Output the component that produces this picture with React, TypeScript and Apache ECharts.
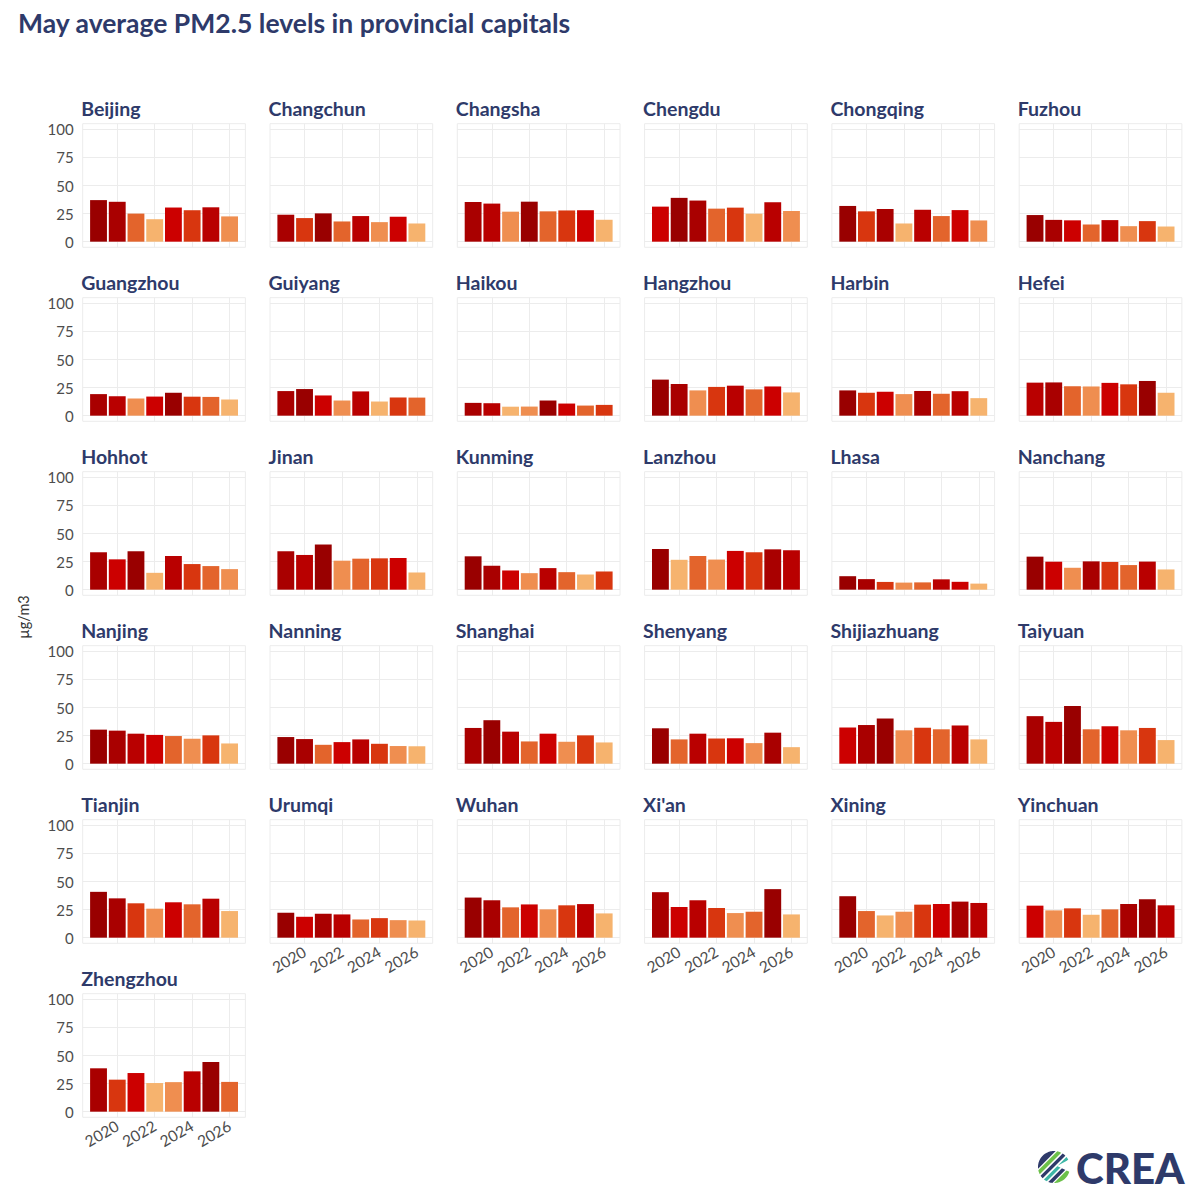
import React, { useEffect, useRef } from "react";
import * as echarts from "echarts";

const years = [2019, 2020, 2021, 2022, 2023, 2024, 2025, 2026];
const xTickYears = [2020, 2022, 2024, 2026];
const yTicks = [0, 25, 50, 75, 100];

const cities = [
  "Beijing", "Changchun", "Changsha", "Chengdu", "Chongqing", "Fuzhou",
  "Guangzhou", "Guiyang", "Haikou", "Hangzhou", "Harbin", "Hefei",
  "Hohhot", "Jinan", "Kunming", "Lanzhou", "Lhasa", "Nanchang",
  "Nanjing", "Nanning", "Shanghai", "Shenyang", "Shijiazhuang", "Taiyuan",
  "Tianjin", "Urumqi", "Wuhan", "Xi'an", "Xining", "Yinchuan",
  "Zhengzhou",
];

const beijing = [37, 35.5, 25, 20, 30.4, 28, 30.6, 22.5];
const changchun = [24, 21, 25.2, 18, 22.8, 17.4, 22.2, 16.2];
const changsha = [35.3, 33.9, 26.7, 35.6, 27.0, 27.8, 28.0, 19.5];
const chengdu = [31.2, 39, 36.6, 29.4, 30.3, 24.9, 35.1, 27.3];
const chongqing = [31.8, 27, 29.1, 16.2, 28.4, 22.8, 28.1, 18.9];
const fuzhou = [23.7, 19.4, 19.0, 15.3, 19.2, 13.8, 18.3, 13.5];
const guangzhou = [19.2, 17.3, 15.3, 17.0, 20.4, 16.9, 16.7, 14.4];
const guiyang = [21.9, 23.7, 18, 13.5, 21.6, 12.6, 16.2, 16.1];
const haikou = [11.4, 11.1, 8.0, 8.1, 13.5, 10.8, 9.0, 9.6];
const hangzhou = [32.1, 28.2, 22.5, 25.6, 26.7, 23.4, 26.0, 20.7];
const harbin = [22.5, 20.4, 21.3, 19.2, 22.0, 19.5, 21.8, 15.6];
const hefei = [29.4, 29.6, 26.2, 26.0, 29.2, 27.9, 30.9, 20.4];
const hohhot = [33.3, 27, 34.2, 15.0, 30, 22.8, 21, 18.3];
const jinan = [34.2, 30.9, 40.2, 25.8, 27.6, 27.9, 28.2, 15.3];
const kunming = [29.7, 21.3, 17.1, 14.7, 19.2, 15.6, 13.5, 16.2];
const lanzhou = [36.2, 26.6, 30, 26.8, 34.5, 33.3, 35.9, 35.1];
const lhasa = [12, 9.4, 6.9, 6.3, 6.5, 9.2, 7.0, 5.4];
const nanchang = [29.4, 24.9, 19.5, 25.2, 24.7, 21.9, 25.0, 18];
const nanjing = [30.3, 29.4, 26.7, 25.6, 24.6, 22.2, 25.2, 18];
const nanning = [23.7, 21.9, 16.8, 19.2, 21.6, 17.7, 15.7, 15.5];
const shanghai = [31.8, 38.7, 28.5, 19.8, 26.7, 19.5, 25.2, 18.9];
const shenyang = [31.5, 21.6, 26.7, 22.4, 22.6, 18.3, 27.6, 14.7];
const shijiazhuang = [32.2, 34.4, 40.2, 29.7, 32.0, 30.6, 34.0, 21.6];
const taiyuan = [42.3, 37.2, 51.3, 30.6, 33.3, 29.7, 31.8, 21];
const tianjin = [40.8, 35.0, 30.6, 25.8, 31.5, 29.7, 34.7, 23.7];
const urumqi = [22.2, 18.6, 21.3, 20.7, 16.2, 17.4, 15.6, 15.3];
const wuhan = [35.7, 33.3, 27, 29.6, 25.2, 28.8, 29.9, 21.6];
const xian = [40.5, 27.3, 33.3, 26.4, 21.9, 23.1, 43.2, 20.7];
const xining = [36.9, 23.7, 19.8, 23.1, 29.4, 30, 32.1, 30.9];
const yinchuan = [28.5, 24.3, 26.1, 20.4, 25.2, 30, 34.2, 28.8];
const zhengzhou = [38.6, 28.5, 34.4, 25.5, 26.3, 35.9, 44.2, 26.5];

const cityValues = [
  beijing, changchun, changsha, chengdu, chongqing, fuzhou,
  guangzhou, guiyang, haikou, hangzhou, harbin, hefei,
  hohhot, jinan, kunming, lanzhou, lhasa, nanchang,
  nanjing, nanning, shanghai, shenyang, shijiazhuang, taiyuan,
  tianjin, urumqi, wuhan, xian, xining, yinchuan,
  zhengzhou,
];

const rankColors = ["#990000", "#a90000", "#b90000", "#cc0000", "#d8360f", "#e3642c", "#ef8e50", "#f6b36e"];

const NAVY = "#2e3a6a";
const FONT = "Lato";

const COLS = 6;
const PANEL_LEFT0 = 82.7;
const COL_PITCH = 187.3;
const PANEL_W = 162.7;
const PANEL_TOP0 = 123.7;
const ROW_PITCH = 174;
const PANEL_H = 123.6;

function bandPolygon(cx: number, cy: number, R: number, a: number, b: number) {
  const pts: number[][] = [];
  const n = 120;
  for (let k = 0; k < n; k++) {
    const t = (k / n) * Math.PI * 2;
    const dx = R * Math.cos(t);
    const dy = R * Math.sin(t);
    const u = (dx + dy) / Math.SQRT2;
    if (u >= a && u <= b) pts.push([cx + dx, cy + dy]);
  }
  return pts;
}

function buildOption() {
  const grids: any[] = [];
  const xAxes: any[] = [];
  const yAxes: any[] = [];
  const series: any[] = [];
  const graphics: any[] = [];

  graphics.push({
    type: "text",
    left: 18,
    top: 9,
    style: {
      text: "May average PM2.5 levels in provincial capitals",
      fontFamily: FONT,
      fontWeight: "bold",
      fontSize: 26.5,
      fill: NAVY,
    },
  });

  graphics.push({
    type: "text",
    x: 23,
    y: 617,
    rotation: Math.PI / 2,
    style: {
      text: "µg/m3",
      fontFamily: FONT,
      fontSize: 14.5,
      fill: "#333333",
      align: "center",
      verticalAlign: "middle",
    },
  });

  cities.forEach((city, i) => {
    const r = Math.floor(i / COLS);
    const c = i % COLS;
    const left = PANEL_LEFT0 + COL_PITCH * c;
    const top = PANEL_TOP0 + ROW_PITCH * r;
    const showX = i + COLS >= cities.length;
    const showY = c === 0;
    const vals = cityValues[i];
    const order = vals.map((v, j) => j).sort((p, q) => vals[q] - vals[p]);
    const rank: number[] = [];
    order.forEach((j, k) => (rank[j] = k));

    grids.push({
      left,
      top,
      width: PANEL_W,
      height: PANEL_H,
      show: true,
      borderColor: "#ececec",
      borderWidth: 1,
      backgroundColor: "transparent",
    });
    xAxes.push({
      type: "value",
      gridIndex: i,
      min: 2018.155,
      max: 2026.845,
      axisLine: { show: false },
      axisTick: { show: false, customValues: xTickYears },
      splitLine: { show: true, lineStyle: { color: "#ececec", width: 1 } },
      axisLabel: {
        show: showX,
        customValues: xTickYears,
        formatter: (v: number) => String(v),
        rotate: 30,
        fontSize: 15.5,
        fontFamily: FONT,
        color: "#4d4d4d",
        margin: 7,
      },
    });
    yAxes.push({
      type: "value",
      gridIndex: i,
      min: -5,
      max: 105,
      axisLine: { show: false },
      axisTick: { show: false, customValues: yTicks },
      splitLine: { show: true, lineStyle: { color: "#ececec", width: 1 } },
      axisLabel: {
        show: showY,
        customValues: yTicks,
        formatter: (v: number) => String(v),
        fontSize: 15,
        fontFamily: FONT,
        color: "#4d4d4d",
        margin: 9,
      },
    });
    series.push({
      type: "bar",
      name: city,
      xAxisIndex: i,
      yAxisIndex: i,
      barWidth: "90%",
      z: 3,
      data: years.map((yr, j) => ({
        value: [yr, vals[j]],
        itemStyle: { color: rankColors[rank[j]] },
      })),
    });
    graphics.push({
      type: "text",
      x: left - 1.5,
      y: top - 15.5,
      style: {
        text: city,
        fontFamily: FONT,
        fontWeight: "bold",
        fontSize: 19.5,
        fill: NAVY,
        verticalAlign: "middle",
      },
    });
  });

  // CREA logo
  const lcx = 1054;
  const lcy = 1167;
  const R = 16;
  const bands: [number, number, string][] = [
    [-16.5, -9.5, NAVY],
    [-9, -4.5, "#6cc04a"],
    [-4, 0.5, NAVY],
    [1, 5.5, "#3db6a6"],
    [6, 10.5, NAVY],
    [11, 16.5, "#6cc04a"],
  ];
  bands.forEach(([a, b, col]) => {
    graphics.push({
      type: "polygon",
      shape: { points: bandPolygon(lcx, lcy, R, a, b) },
      style: { fill: col },
    });
  });
  graphics.push({
    type: "polygon",
    shape: { points: [[lcx + 3, lcy - 1], [lcx + 18, lcy - 9], [lcx + 18, lcy + 6]] },
    style: { fill: "#ffffff" },
  });
  graphics.push({
    type: "text",
    x: 1076,
    y: 1168,
    style: {
      text: "CREA",
      fontFamily: FONT,
      fontWeight: 900,
      fontSize: 42,
      fill: NAVY,
      verticalAlign: "middle",
    },
  });

  return {
    animation: false,
    backgroundColor: "#ffffff",
    grid: grids,
    xAxis: xAxes,
    yAxis: yAxes,
    series,
    graphic: graphics,
  };
}

export default function App() {
  const ref = useRef<HTMLDivElement>(null);
  useEffect(() => {
    document.body.style.margin = "0";
    if (!ref.current) return;
    const chart = echarts.init(ref.current, undefined, { renderer: "svg" });
    chart.setOption(buildOption() as any);
    return () => chart.dispose();
  }, []);
  return <div ref={ref} style={{ width: 1200, height: 1200 }} />;
}
